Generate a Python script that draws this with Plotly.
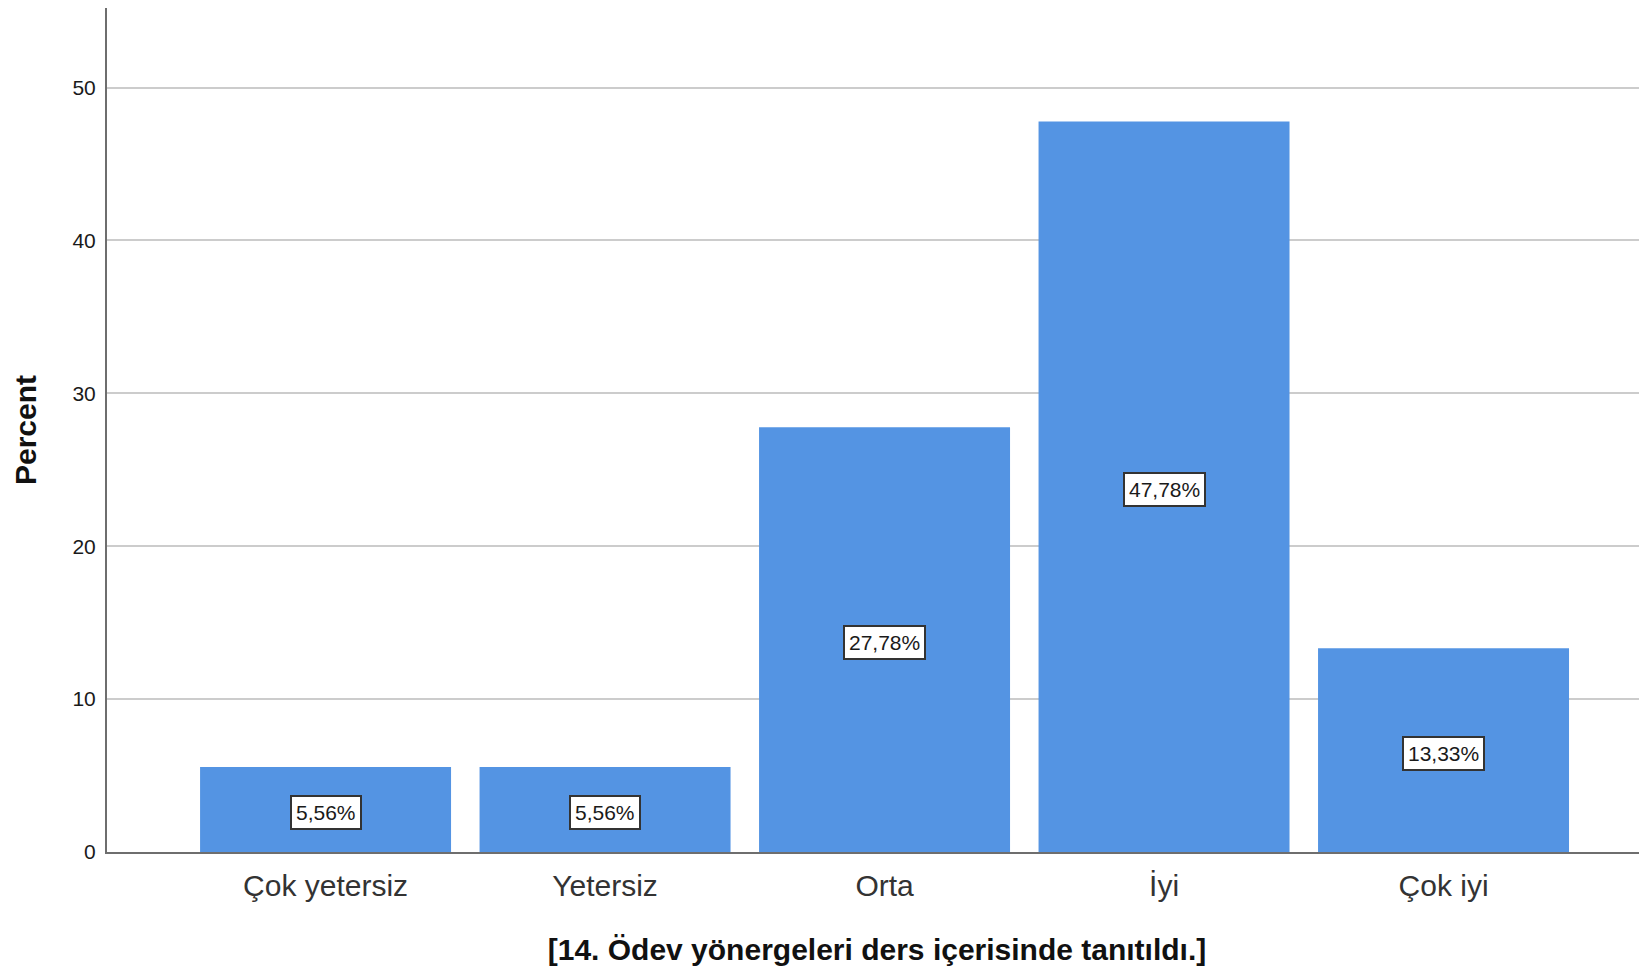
import plotly.graph_objects as go

# categorías y porcentajes
categories = ["Çok yetersiz", "Yetersiz", "Orta", "İyi", "Çok iyi"]
percent = [5.56, 5.56, 27.78, 47.78, 13.33]
y_ticks = [0, 10, 20, 30, 40, 50]

x_title = "[14. Ödev yönergeleri ders içerisinde tanıtıldı.]"
y_title = "Percent"

bar_color = "rgb(84,148,227)"
font_family = "Liberation Sans, Arial, sans-serif"

fig = go.Figure()
fig.add_trace(go.Bar(x=categories,
                     y=percent,
                     marker=dict(color=bar_color, line=dict(width=0)),
                     hoverinfo="skip"))

# etiquetas con caja blanca en medio de cada barra
for cat, val in zip(categories, percent):
    fig.add_annotation(x=cat, y=val / 2,
                       text=f"{val:.2f}%".replace(".", ","),
                       showarrow=False,
                       yshift=-3,
                       font=dict(size=21, color="#1a1a1a", family=font_family),
                       bgcolor="white",
                       bordercolor="#333333",
                       borderwidth=2,
                       borderpad=4)

# la página tiene 8px de margen en el body
fig.update_layout(width=1639, height=962,
                  margin=dict(l=99, r=0, t=0, b=118),
                  paper_bgcolor="white",
                  plot_bgcolor="white",
                  bargap=0.102,
                  showlegend=False,
                  font=dict(family=font_family, color="#222222"))

fig.update_xaxes(type="category",
                 range=[-0.782, 4.728],
                 showline=True, linecolor="#6e6e6e", linewidth=2,
                 showgrid=False, zeroline=False,
                 ticks="", ticklabelstandoff=6,
                 tickfont=dict(size=30, color="#333333"),
                 title=dict(text=x_title, standoff=38,
                            font=dict(size=30, color="#111111", weight="bold")))

fig.update_yaxes(range=[0, 55.2],
                 tickvals=y_ticks,
                 showline=True, linecolor="#6e6e6e", linewidth=2,
                 showgrid=True, gridcolor="#cccccc", gridwidth=2,
                 zeroline=False,
                 ticks="", ticklabelstandoff=5,
                 tickfont=dict(size=21, color="#1a1a1a"),
                 title=dict(text=y_title, standoff=27,
                            font=dict(size=30, color="#111111", weight="bold")))

fig.write_html("out.html")
